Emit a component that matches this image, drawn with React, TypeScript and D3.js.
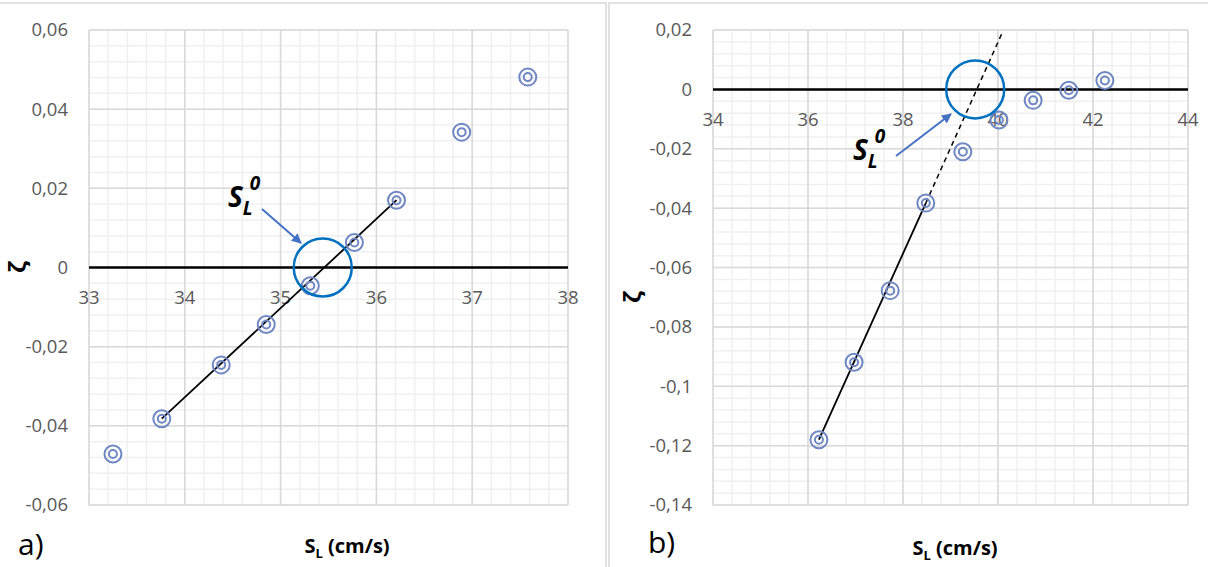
import React, { useRef, useEffect } from 'react';
import * as d3 from 'd3';

// panel a) measured points
const aSL = [33.25, 33.76, 34.38, 34.85, 35.31, 35.77, 36.21, 36.89, 37.58];
const aZeta = [-0.0471, -0.0382, -0.0246, -0.0144, -0.0046, 0.0063, 0.017, 0.0342, 0.0481];
// panel a) fitted line
const aFitSL = [33.76, 36.21];
const aFitZeta = [-0.0382, 0.017];
const aCross = 35.44;
const aXTicks = [33, 34, 35, 36, 37, 38];
const aYTicks = [-0.06, -0.04, -0.02, 0, 0.02, 0.04, 0.06];

// panel b) measured points
const bSL = [36.23, 36.97, 37.73, 38.48, 39.26, 40.02, 40.74, 41.49, 42.25];
const bZeta = [-0.118, -0.0919, -0.0678, -0.0383, -0.021, -0.0103, -0.0037, -0.0003, 0.003];
// panel b) fitted line, solid part then dashed extrapolation
const bFitSL = [36.23, 38.48];
const bFitZeta = [-0.118, -0.0383];
const bDashSL = [38.48, 40.1];
const bDashZeta = [-0.0383, 0.0195];
const bCross = 39.52;
const bXTicks = [34, 36, 38, 40, 42, 44];
const bYTicks = [-0.14, -0.12, -0.1, -0.08, -0.06, -0.04, -0.02, 0, 0.02];

// comma decimal, plain hyphen minus
const fmt = (v) => String(+v.toFixed(2)).replace('.', ',');

const App = () => {
  const svgRef = useRef();

  useEffect(() => {
    const svg = d3.select(svgRef.current);
    svg.selectAll('*').remove();

    const defs = svg.append('defs');
    defs.append('marker')
      .attr('id', 'arrow')
      .attr('viewBox', '0 0 10 10')
      .attr('refX', 9)
      .attr('refY', 5)
      .attr('markerWidth', 5)
      .attr('markerHeight', 5)
      .attr('orient', 'auto')
      .append('path')
      .attr('d', 'M0,0 L10,5 L0,10 z')
      .attr('fill', '#4472c4');

    // panel frames
    svg.append('path')
      .attr('d', 'M0,3 H606 V567 M609,567 V3 H1208')
      .attr('fill', 'none')
      .attr('stroke', '#d9d9d9')
      .attr('stroke-width', 1.5);

    const drawPanel = (cfg) => {
      const { xDom, yDom, xr, yr, xTicks, yTicks, xMinor, yMinor } = cfg;
      const x = d3.scaleLinear().domain(xDom).range(xr);
      const y = d3.scaleLinear().domain(yDom).range(yr);
      const g = svg.append('g');

      // minor grid
      g.selectAll('line.vminor')
        .data(d3.range(xDom[0], xDom[1] + 1e-9, xMinor))
        .join('line')
        .attr('x1', d => x(d)).attr('x2', d => x(d))
        .attr('y1', yr[1]).attr('y2', yr[0])
        .attr('stroke', '#f0f0f0').attr('stroke-width', 1.5);
      g.selectAll('line.hminor')
        .data(d3.range(yDom[0], yDom[1] + 1e-9, yMinor))
        .join('line')
        .attr('x1', xr[0]).attr('x2', xr[1])
        .attr('y1', d => y(d)).attr('y2', d => y(d))
        .attr('stroke', '#f0f0f0').attr('stroke-width', 1.5);
      // major grid
      g.selectAll('line.vmajor')
        .data(xTicks)
        .join('line')
        .attr('x1', d => x(d)).attr('x2', d => x(d))
        .attr('y1', yr[1]).attr('y2', yr[0])
        .attr('stroke', '#d9d9d9').attr('stroke-width', 1.5);
      g.selectAll('line.hmajor')
        .data(yTicks)
        .join('line')
        .attr('x1', xr[0]).attr('x2', xr[1])
        .attr('y1', d => y(d)).attr('y2', d => y(d))
        .attr('stroke', '#d9d9d9').attr('stroke-width', 1.5);

      // zero axis
      g.append('line')
        .attr('x1', xr[0]).attr('x2', xr[1])
        .attr('y1', y(0)).attr('y2', y(0))
        .attr('stroke', '#000').attr('stroke-width', 2.5);

      // tick labels
      g.selectAll('text.yt')
        .data(yTicks)
        .join('text')
        .attr('x', xr[0] - 21)
        .attr('y', d => y(d))
        .attr('dy', '0.35em')
        .attr('text-anchor', 'end')
        .attr('font-family', 'Open Sans')
        .attr('font-size', 18.5)
        .attr('fill', '#595959')
        .text(fmt);
      g.selectAll('text.xt')
        .data(xTicks)
        .join('text')
        .attr('x', d => x(d))
        .attr('y', y(0) + 30)
        .attr('dy', '0.35em')
        .attr('text-anchor', 'middle')
        .attr('font-family', 'Open Sans')
        .attr('font-size', 18.5)
        .attr('fill', '#595959')
        .text(d => d);

      // fit lines
      const line = d3.line().x(d => x(d[0])).y(d => y(d[1]));
      g.append('path')
        .attr('d', line(d3.zip(cfg.fitX, cfg.fitY)))
        .attr('fill', 'none').attr('stroke', '#000').attr('stroke-width', 1.8);
      if (cfg.dashX) {
        g.append('path')
          .attr('d', line(d3.zip(cfg.dashX, cfg.dashY)))
          .attr('fill', 'none').attr('stroke', '#000').attr('stroke-width', 1.5)
          .attr('stroke-dasharray', '5,4');
      }

      // markers
      const pts = d3.zip(cfg.px, cfg.py);
      g.selectAll('circle.outer')
        .data(pts)
        .join('circle')
        .attr('cx', d => x(d[0])).attr('cy', d => y(d[1]))
        .attr('r', 8.5)
        .attr('fill', 'none').attr('stroke', '#6f87c2').attr('stroke-width', 2);
      g.selectAll('circle.inner')
        .data(pts)
        .join('circle')
        .attr('cx', d => x(d[0])).attr('cy', d => y(d[1]))
        .attr('r', 4)
        .attr('fill', 'none').attr('stroke', '#6f87c2').attr('stroke-width', 2);

      // S_L^0 circle
      g.append('circle')
        .attr('cx', x(cfg.cross)).attr('cy', y(0))
        .attr('r', 29)
        .attr('fill', 'none').attr('stroke', '#0070c0').attr('stroke-width', 2.5);

      // arrow
      const a = cfg.arrow;
      g.append('line')
        .attr('x1', a[0]).attr('y1', a[1]).attr('x2', a[2]).attr('y2', a[3])
        .attr('stroke', '#4472c4').attr('stroke-width', 2)
        .attr('marker-end', 'url(#arrow)');

      // S_L^0 label
      const lab = g.append('text')
        .attr('x', cfg.lab[0]).attr('y', cfg.lab[1])
        .attr('font-family', 'Open Sans')
        .attr('font-weight', 'bold')
        .attr('font-style', 'italic')
        .attr('font-size', 28)
        .attr('fill', '#000');
      lab.append('tspan').text('S');
      lab.append('tspan').attr('font-size', 19).attr('dy', 8).text('L');
      lab.append('tspan').attr('font-size', 19).attr('dx', -3).attr('dy', -25).text('0');

      // axis titles
      const t = g.append('text')
        .attr('x', cfg.title[0]).attr('y', cfg.title[1])
        .attr('text-anchor', 'middle')
        .attr('font-family', 'Open Sans')
        .attr('font-weight', 'bold')
        .attr('font-size', 20)
        .attr('fill', '#000');
      t.append('tspan').text('S');
      t.append('tspan').attr('font-size', 13).attr('dy', 5).text('L');
      t.append('tspan').attr('dy', -5).text(' (cm/s)');

      g.append('text')
        .attr('transform', `translate(${cfg.zeta[0]},${cfg.zeta[1]}) rotate(-90)`)
        .attr('text-anchor', 'middle')
        .attr('dy', '0.35em')
        .attr('font-family', 'Open Sans')
        .attr('font-weight', 'bold')
        .attr('font-size', 24)
        .attr('fill', '#000')
        .text('ζ');

      g.append('text')
        .attr('x', cfg.tag[0]).attr('y', cfg.tag[1])
        .attr('font-family', 'Open Sans')
        .attr('font-size', 30)
        .attr('fill', '#000')
        .text(cfg.tag[2]);
    };

    drawPanel({
      xDom: [33, 38], yDom: [-0.06, 0.06], xr: [89, 568], yr: [505, 30],
      xTicks: aXTicks, yTicks: aYTicks, xMinor: 0.2, yMinor: 0.004,
      px: aSL, py: aZeta, fitX: aFitSL, fitY: aFitZeta, cross: aCross,
      arrow: [262, 209, 301, 243], lab: [228, 207],
      title: [347, 553], zeta: [18, 267], tag: [18, 555, 'a)'],
    });

    drawPanel({
      xDom: [34, 44], yDom: [-0.14, 0.02], xr: [713, 1188], yr: [505, 30],
      xTicks: bXTicks, yTicks: bYTicks, xMinor: 0.4, yMinor: 0.004,
      px: bSL, py: bZeta, fitX: bFitSL, fitY: bFitZeta,
      dashX: bDashSL, dashY: bDashZeta, cross: bCross,
      arrow: [896, 156, 951, 114], lab: [853, 160],
      title: [955, 555], zeta: [633, 297], tag: [648, 553, 'b)'],
    });
  }, []);

  return (
    <svg
      ref={svgRef}
      width={1208}
      height={567}
      style={{ position: 'absolute', left: 0, top: 0, background: '#fff' }}
    />
  );
};

export default App;
